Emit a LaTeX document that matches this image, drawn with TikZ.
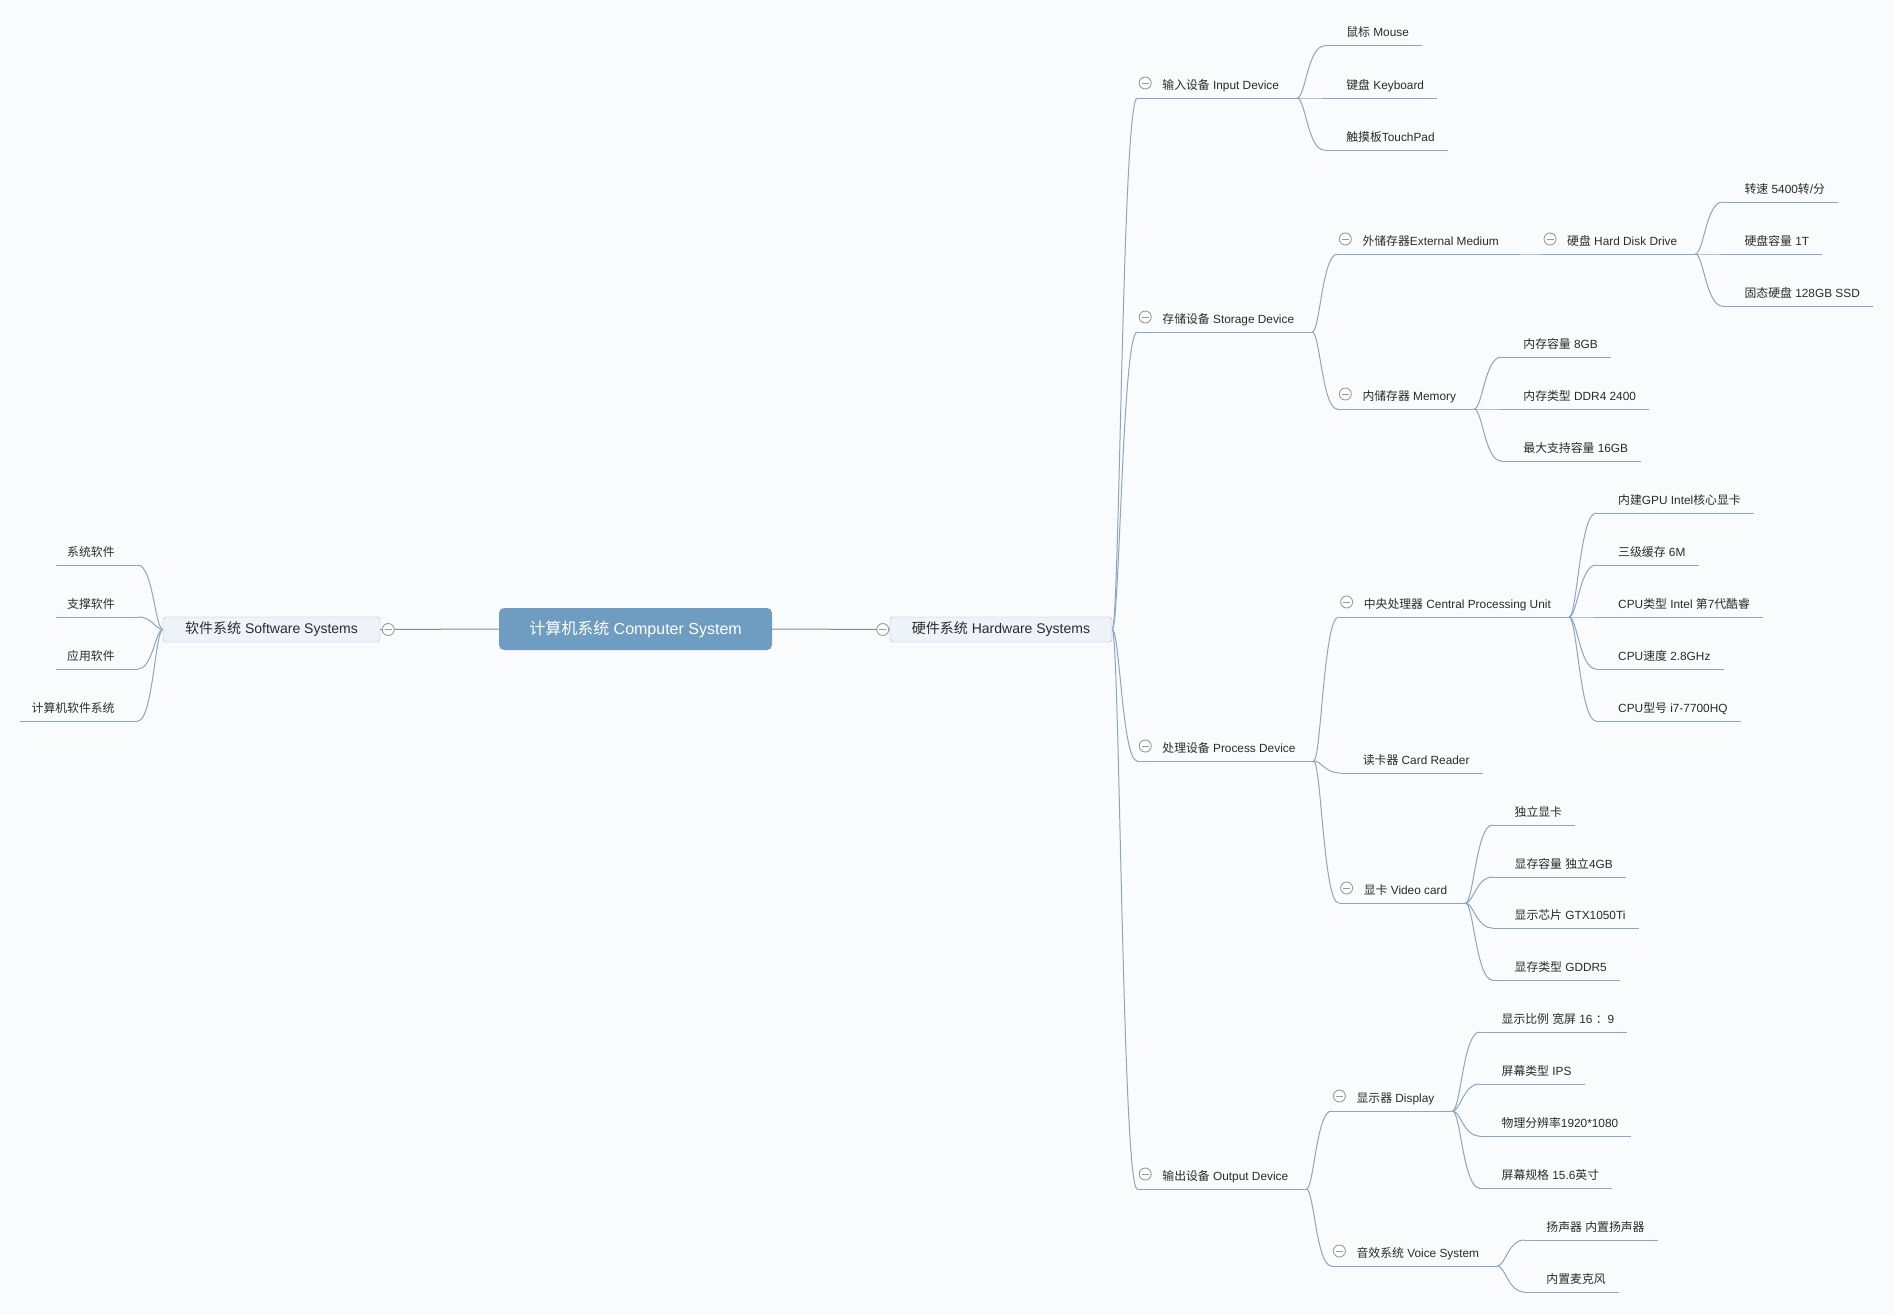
\documentclass[tikz,border=0pt]{standalone}
\usepackage{fontspec}
\setmainfont{Liberation Sans}
\newfontfamily\cjk{Noto Sans CJK SC}
\newcommand\zhc[1]{{\cjk #1}}
\usetikzlibrary{calc}
\definecolor{ln}{HTML}{8AA6C3}
\definecolor{tx}{HTML}{2B2B2B}
\definecolor{cg}{HTML}{9A9A9A}
\definecolor{bx}{HTML}{A3B6C9}
\definecolor{bf}{HTML}{EEF3F9}
\definecolor{rt}{HTML}{6E9DC1}
\definecolor{rl}{HTML}{8C8C8C}
\definecolor{bg}{HTML}{FAFBFD}
% mid-level topic with collapse circle
\newcommand\mmmid[4]{%
 \path let \p1=(#2) in (\x1+25,-#3) coordinate (#1-l);
 \node[circ] (#1-c) at ([xshift=8pt,yshift=15pt]#1-l) {};
 \node[txt, anchor=base west] (#1) at ([xshift=25pt,yshift=9pt]#1-l) {#4};
 \path let \p2=(#1.base east) in (\x2+18,-#3) coordinate (#1-r);
 \draw[ul] (#1-l) -- (#1-r);
 \draw[conn] (#2) to[branch] (#1-l);
}
% leaf topic (right side)
\newcommand\mmleaf[4]{%
 \path let \p1=(#2) in (\x1+27,-#3) coordinate (#1-l);
 \node[txt, anchor=base west] (#1) at ([xshift=22pt,yshift=9pt]#1-l) {#4};
 \path let \p2=(#1.base east) in (\x2+13,-#3) coordinate (#1-r);
 \draw[ul] (#1-l) -- (#1-r);
 \draw[conn] (#2) to[branch] (#1-l);
}
% leaf topic (left side)
\newcommand\mmlleaf[3]{%
 \path let \p1=(sw.west) in (\x1-25,-#2) coordinate (#1-r);
 \node[txt, anchor=base east] (#1) at ([xshift=-23pt,yshift=9pt]#1-r) {#3};
 \path let \p2=(#1.base west) in (\x2-11,-#2) coordinate (#1-l);
 \draw[ul] (#1-l) -- (#1-r);
 \draw[conn] (sw.west) to[branch] (#1-r);
}
\begin{document}
\begin{tikzpicture}[x=1pt,y=1pt,
  txt/.style={inner sep=0pt, text=tx, font=\fontsize{11.85}{14}\selectfont},
  ul/.style={draw=ln, line width=1pt},
  conn/.style={draw=ln, line width=1pt},
  branch/.style={to path={let \p1=(\tikztostart),\p2=(\tikztotarget) in .. controls ({0.7*\x1+0.3*\x2},\y1) and ({0.6*\x1+0.4*\x2},\y2) .. (\tikztotarget)}},
  circ/.style={circle, draw=cg, fill=white, line width=0.9pt, minimum size=12pt, inner sep=0pt,
    path picture={\draw[cg, line width=0.9pt] ([xshift=-3.5pt]path picture bounding box.center) -- ([xshift=3.5pt]path picture bounding box.center);}},
  box/.style={draw=bx, fill=bf, rounded corners=3pt, minimum height=25pt, inner sep=0pt, text=tx, font=\fontsize{14}{16}\selectfont},
  rootbox/.style={fill=rt, rounded corners=5pt, minimum width=273pt, minimum height=42pt, inner sep=0pt, text=white, font=\fontsize{16}{18}\selectfont},
  rootline/.style={draw=rl, line width=1pt}
]
\fill[bg] (0,0) rectangle (1893,-1314);
\useasboundingbox (0,0) rectangle (1893,-1314);

% central topic and main branches
\node[rootbox] (root) at (635.5,-629) {\zhc{计算机系统} Computer System};
\node[box, minimum width=222pt] (hw) at (1001,-629.5) {\zhc{硬件系统} Hardware Systems};
\node[box, minimum width=217pt] (sw) at (271.5,-629.5) {\zhc{软件系统} Software Systems};
\draw[rootline] (root.east) -- (hw.west);
\draw[rootline] (root.west) -- (sw.east);
\node[circ] (hwc) at ([xshift=-7pt]hw.west) {};
\node[circ] (swc) at ([xshift=8pt]sw.east) {};

% software side
\mmlleaf{s1}{565}{\zhc{系统软件}}
\mmlleaf{s2}{617}{\zhc{支撑软件}}
\mmlleaf{s3}{669}{\zhc{应用软件}}
\mmlleaf{s4}{721}{\zhc{计算机软件系统}}

% hardware: level 1
\mmmid{inp}{hw.east}{98}{\zhc{输入设备} Input Device}
\mmmid{sto}{hw.east}{332}{\zhc{存储设备} Storage Device}
\mmmid{pro}{hw.east}{761}{\zhc{处理设备} Process Device}
\mmmid{out}{hw.east}{1189}{\zhc{输出设备} Output Device}

% input devices
\mmleaf{mouse}{inp-r}{46}{\zhc{鼠标} Mouse}
\mmleaf{kbd}{inp-r}{98}{\zhc{键盘} Keyboard}
\mmleaf{tpad}{inp-r}{150}{\zhc{触摸板}TouchPad}

% storage devices
\mmmid{ext}{sto-r}{254}{\zhc{外储存器}External Medium}
\mmmid{hdd}{ext-r}{254}{\zhc{硬盘} Hard Disk Drive}
\mmleaf{rpm}{hdd-r}{202}{\zhc{转速} 5400\zhc{转}/\zhc{分}}
\mmleaf{hcap}{hdd-r}{254}{\zhc{硬盘容量} 1T}
\mmleaf{ssd}{hdd-r}{306}{\zhc{固态硬盘} 128GB SSD}
\mmmid{mem}{sto-r}{409}{\zhc{内储存器} Memory}
\mmleaf{m1}{mem-r}{357}{\zhc{内存容量} 8GB}
\mmleaf{m2}{mem-r}{409}{\zhc{内存类型} DDR4 2400}
\mmleaf{m3}{mem-r}{461}{\zhc{最大支持容量} 16GB}

% process devices
\mmmid{cpu}{pro-r}{617}{\zhc{中央处理器} Central Processing Unit}
\mmleaf{c1}{cpu-r}{513}{\zhc{内建}GPU Intel\zhc{核心显卡}}
\mmleaf{c2}{cpu-r}{565}{\zhc{三级缓存} 6M}
\mmleaf{c3}{cpu-r}{617}{CPU\zhc{类型} Intel \zhc{第}7\zhc{代酷睿}}
\mmleaf{c4}{cpu-r}{669}{CPU\zhc{速度} 2.8GHz}
\mmleaf{c5}{cpu-r}{721}{CPU\zhc{型号} i7-7700HQ}
\mmleaf{card}{pro-r}{773}{\zhc{读卡器} Card Reader}
\mmmid{vid}{pro-r}{903}{\zhc{显卡} Video card}
\mmleaf{v1}{vid-r}{825}{\zhc{独立显卡}}
\mmleaf{v2}{vid-r}{877}{\zhc{显存容量} \zhc{独立}4GB}
\mmleaf{v3}{vid-r}{928}{\zhc{显示芯片} GTX1050Ti}
\mmleaf{v4}{vid-r}{980}{\zhc{显存类型} GDDR5}

% output devices
\mmmid{disp}{out-r}{1111}{\zhc{显示器} Display}
\mmleaf{d1}{disp-r}{1032}{\zhc{显示比例} \zhc{宽屏} 16 \zhc{：}9}
\mmleaf{d2}{disp-r}{1084}{\zhc{屏幕类型} IPS}
\mmleaf{d3}{disp-r}{1136}{\zhc{物理分辨率}1920*1080}
\mmleaf{d4}{disp-r}{1188}{\zhc{屏幕规格} 15.6\zhc{英寸}}
\mmmid{voice}{out-r}{1266}{\zhc{音效系统} Voice System}
\mmleaf{a1}{voice-r}{1240}{\zhc{扬声器} \zhc{内置扬声器}}
\mmleaf{a2}{voice-r}{1292}{\zhc{内置麦克风}}
\end{tikzpicture}
\end{document}
